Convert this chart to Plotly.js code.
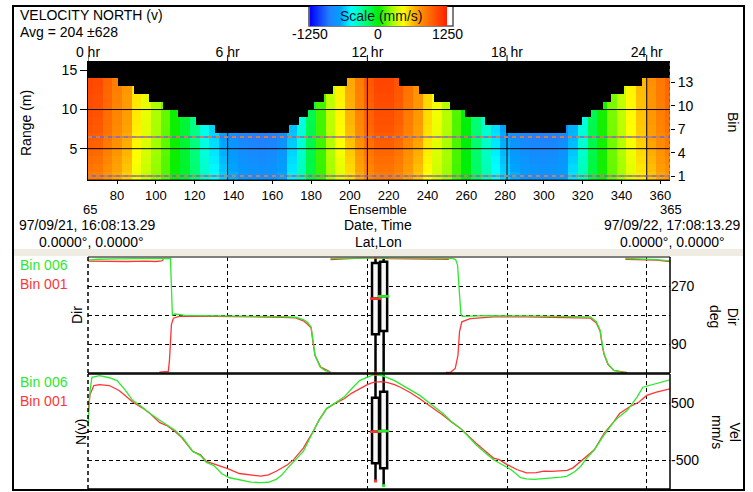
<!DOCTYPE html>
<html><head><meta charset="utf-8">
<script src="https://cdn.plot.ly/plotly-3.0.1.min.js"></script>
<style>html,body{margin:0;padding:0;background:#fff;}#chart{width:753px;height:492px;}</style>
</head><body><div id="chart"></div>
<script>
// ---------------- data ----------------
const ensStart = 65, ensEnd = 365;
const hourEns = [65, 137, 209, 281, 353];
const hourLabels = ['0 hr', '6 hr', '12 hr', '18 hr', '24 hr'];
const ensTicks = [80, 100, 120, 140, 160, 180, 200, 220, 240, 260, 280, 300, 320, 340, 360];
const rangeTicks = [5, 10, 15];
const binTicks = [1, 4, 7, 10, 13];
const binCount = 15;
const selBins = [6, 1];

const heatEns = [65,70,75,80,85,90,95,100,105,110,115,120,125,130,135,140,145,150,155,160,165,170,175,180,185,190,195,200,205,210,215,220,225,230,235,240,245,250,255,260,265,270,275,280,285,290,295,300,305,310,315,320,325,330,335,340,345,350,355,360,365];
const heatVel = [1000,980,880,780,680,480,380,260,150,20,-100,-250,-450,-580,-700,-780,-850,-880,-900,-880,-800,-620,-420,-150,100,300,450,620,780,920,1000,1000,940,820,700,520,400,280,120,-20,-220,-400,-560,-680,-780,-840,-870,-880,-870,-830,-650,-420,-150,30,180,300,440,580,700,800,880];
// relative strength by bin (bin 1 .. 15)
const binFactor = [0.86,0.89,0.92,0.95,0.98,1.0,1.02,1.04,1.05,1.06,1.07,1.08,1.09,1.1,1.1];
// highest valid bin (surface) and the ensemble where it starts
const stepEns = [65,81,89,97,104,112,121,131,169,174,179,182,187,192,199,226,236,244,252,260,270,281,312,320,325,331,335,342,351];
const stepTop = [13,12,11,10,9,8,7,6,7,8,9,10,11,12,13,12,11,10,9,8,7,6,7,8,9,10,11,12,13];

// velocity north, bin 006 (green) and bin 001 (red), mm/s
const vel6Ens = [65,66,67,71,76,80,84,88,93,97,102,106,110,114,119,123,126,130,134,138,142,145,149,154,158,162,165,168,172,176,181,184,188,192,197,201,205,209,212,216,219,223,226,231,236,242,248,252,257,261,265,270,274,277,280,283,288,291,295,300,305,309,312,316,319,322,326,331,336,339,343,346,348,351,355,358,361,365];
const vel6 = [90,700,958,987,950,900,740,552,430,320,203,110,20,-115,-348,-420,-540,-600,-740,-811,-835,-858,-887,-898,-890,-840,-760,-637,-500,-348,0,200,407,500,609,760,900,960,999,990,958,900,842,740,639,480,320,190,58,-80,-232,-380,-492,-551,-610,-666,-811,-830,-840,-830,-811,-800,-782,-700,-608,-470,-318,-58,174,270,377,520,609,783,820,842,880,912];
const vel1Ens = [65,66,68,71,76,81,84,88,93,97,102,106,110,113,119,123,126,131,137,143,148,154,158,162,168,171,176,181,184,188,192,197,201,205,209,212,216,219,223,226,231,236,242,248,252,257,261,265,270,274,277,281,286,291,296,300,304,308,312,315,320,323,326,331,336,339,344,349,353,358,361,365];
const vel1 = [325,650,813,830,813,726,640,522,420,320,160,100,0,-92,-348,-405,-522,-580,-650,-736,-753,-783,-760,-696,-579,-492,-289,0,200,407,490,581,680,755,830,870,880,870,830,783,690,581,440,290,180,58,-70,-203,-350,-464,-492,-579,-666,-724,-720,-696,-700,-696,-680,-637,-492,-400,-318,-29,174,320,435,522,639,696,720,755];

// direction, degrees (null = wrap-around break)
const dir6Ens = [65,70,80,90,100,105,107.5,108.5,110,115,130,150,165,172,176,178,180,181,182,184.6,187,189.7,189.8,190,200,210,220,230,240,250,253,254.5,255.5,256.3,257.2,258,262,270,290,310,320,324,327,329,330,331,333,336,340,342.7,342.8,342,350,358,365];
const dir6 = [350,353,354,355,356,355,356,180,183,179,177,176,175,173,166,158,143,96,55,19,8,3,null,356,357,358,357,357,356,356,356,352,335,262,184,176,177,178,177,176,175,174,159,133,91,60,29,8,3,2,null,356,355,352,348];
const dir1Ens = [65,75,85,95,100,103,104,104.1,101.8,104,106.4,107,107.5,108,109,112,130,150,165,172,176,178,180,181,182,185,190,190.1,190,200,210,220,230,240,251,251.1,249.5,252,254.3,255.7,256.5,257.7,262,274,290,310,320,324,327,329,330,331,333,336,343,343.1,342,350,358,365];
const dir1 = [347,346,346,347,346,348,352,null,3,4,5,40,110,150,170,176,176,175,173,171,162,152,140,95,55,18,3,null,352,355,358,355,354,354,353,null,2,3,14,55,128,159,169,174,174,173,172,170,155,130,88,58,27,8,1,null,353,352,350,346];

// box summaries: [bin 001, bin 006]
const boxEns = [213.2, 217.4];
const dirQ1 = [120, 130], dirMed = [231, 238], dirQ3 = [341, 345], dirLo = [0, 0], dirHi = [360, 360];
const velQ1 = [-556, -644], velMed = [0, 12], velQ3 = [598, 704], velLo = [-868, -950], velHi = [1016, 1016];

// ---------------- styling / layout ----------------
const W = 753, H = 492;
const px = x => x / W, py = y => 1 - y / H;
const FONT = 'Arial, "Liberation Sans", sans-serif';
const F14 = {family: FONT, size: 14, color: '#000'};
const F13 = {family: FONT, size: 13, color: '#000'};
const GREEN = '#2bea2b', RED = '#ff3535';
const XD = [px(88), px(670)];
const heatDom = [py(180), py(61)];
const dirDom = [py(373), py(257)];
const velDom = [py(489), py(374)];
const heatRange = [1, 16.2];
const dirRange = [0, 360];
const velRange = [-1009, 1016];

const colorscale = [
  [0.00, '#0000ff'], [0.14, '#2080ff'], [0.22, '#00a0ff'], [0.30, '#00ffff'],
  [0.40, '#00ff80'], [0.50, '#00ee00'], [0.60, '#a0ff00'], [0.68, '#ffff00'],
  [0.78, '#ffa000'], [0.90, '#ff5a00'], [1.00, '#ff2000']];

// heat grid
const bins = Array.from({length: binCount}, (_, i) => i + 1);
const binY = bins.map(b => b + 0.5);
const zx = []; for (let e = ensStart; e <= ensEnd; e++) zx.push(e);
function topAt(e) { let t = stepTop[0]; for (let i = 0; i < stepEns.length; i++) if (e >= stepEns[i]) t = stepTop[i]; return t; }
function heatAt(e) { let k = 0; for (let i = 0; i < heatEns.length; i++) if (Math.abs(heatEns[i] - e) < Math.abs(heatEns[k] - e)) k = i; return heatVel[k]; }
const zGrid = bins.map((b, bi) => zx.map(e => (b <= topAt(e) ? heatAt(e) * binFactor[bi] : null)));

const traces = [];
traces.push({type: 'heatmap', x: zx, y: binY, z: zGrid, xaxis: 'x', yaxis: 'y', zmin: -1250, zmax: 1250,
  colorscale: colorscale, zsmooth: false, hoverinfo: 'skip', showscale: true,
  colorbar: {orientation: 'h', x: px(378.5), xanchor: 'center', y: py(6), yanchor: 'top',
    len: 137, lenmode: 'pixels', thickness: 20, thicknessmode: 'pixels', xpad: 0, ypad: 0,
    outlinewidth: 0, showticklabels: false, ticks: ''}});
traces.push({type: 'scatter', x: [], y: [], xaxis: 'x2', yaxis: 'y2', hoverinfo: 'skip', showlegend: false});

function lineTrace(x, y, color, xa, ya) {
  return {type: 'scatter', mode: 'lines', x: x, y: y, xaxis: xa, yaxis: ya, connectgaps: false,
    line: {color: color, width: 1.3}, hoverinfo: 'skip', showlegend: false};
}
traces.push(lineTrace(dir1Ens, dir1, RED, 'x3', 'y3'));
traces.push(lineTrace(dir6Ens, dir6, GREEN, 'x3', 'y3'));
traces.push(lineTrace(vel1Ens, vel1, RED, 'x4', 'y4'));
traces.push(lineTrace(vel6Ens, vel6, GREEN, 'x4', 'y4'));

const boxColors = [RED, GREEN];
function addBoxes(q1, med, q3, lo, hi, xa, ya) {
  for (let i = 0; i < boxEns.length; i++) {
    traces.push({type: 'box', x: [boxEns[i]], q1: [q1[i]], median: [med[i]], q3: [q3[i]],
      lowerfence: [lo[i]], upperfence: [hi[i]], width: 3.6, whiskerwidth: 0, boxpoints: false,
      line: {color: '#000', width: 2.5}, fillcolor: '#f7f7f7', xaxis: xa, yaxis: ya,
      hoverinfo: 'skip', showlegend: false});
    traces.push({type: 'scatter', mode: 'markers', x: [boxEns[i]], y: [med[i]], xaxis: xa, yaxis: ya,
      marker: {symbol: 'line-ew', size: 8, line: {color: boxColors[i], width: 2.5}},
      hoverinfo: 'skip', showlegend: false});
    traces.push({type: 'scatter', mode: 'markers', x: [boxEns[i], boxEns[i]], y: [lo[i], hi[i]], xaxis: xa, yaxis: ya,
      marker: {symbol: 'square', size: 3, color: boxColors[i]}, cliponaxis: true,
      hoverinfo: 'skip', showlegend: false});
  }
}
addBoxes(dirQ1, dirMed, dirQ3, dirLo, dirHi, 'x3', 'y3');
addBoxes(velQ1, velMed, velQ3, velLo, velHi, 'x4', 'y4');

// shapes
const shapes = [];
shapes.push({type: 'rect', xref: 'x', yref: 'y', x0: ensStart, x1: ensEnd, y0: heatRange[0], y1: heatRange[1],
  fillcolor: '#000', line: {width: 0}, layer: 'below'});
hourEns.slice(1).forEach(e => shapes.push({type: 'line', xref: 'x', yref: 'y', x0: e, x1: e, y0: heatRange[0], y1: heatRange[1],
  line: {color: '#000', width: 1}, layer: 'above'}));
rangeTicks.forEach(r => shapes.push({type: 'line', xref: 'x', yref: 'y', x0: ensStart, x1: ensEnd, y0: r, y1: r,
  line: {color: '#000', width: 1}, layer: 'above'}));
selBins.forEach(b => {
  shapes.push({type: 'line', xref: 'x', yref: 'y', x0: ensStart, x1: ensEnd, y0: b + 0.5, y1: b + 0.5, line: {color: '#6a6ad2', width: 1.5}, layer: 'above'});
  shapes.push({type: 'line', xref: 'x', yref: 'y', x0: ensStart, x1: ensEnd, y0: b + 0.5, y1: b + 0.5, line: {color: '#e8843c', width: 1.5, dash: '4px,4px'}, layer: 'above'});
});
shapes.push({type: 'line', xref: 'x', yref: 'y', x0: ensEnd, x1: ensEnd, y0: heatRange[0], y1: heatRange[1], line: {color: '#3a5ad8', width: 1.5, dash: '3px,3px'}, layer: 'above'});
hourEns.forEach(e => shapes.push({type: 'line', xref: 'x', yref: 'paper', x0: e, x1: e, y0: heatDom[1], y1: py(55),
  line: {color: '#000', width: 1}}));
function panelFrame(dom, topColor) {
  shapes.push({type: 'line', xref: 'paper', yref: 'paper', x0: XD[0], x1: XD[1], y0: dom[1], y1: dom[1], line: {color: topColor, width: 1.5}});
  shapes.push({type: 'line', xref: 'paper', yref: 'paper', x0: XD[0], x1: XD[1], y0: dom[0], y1: dom[0], line: {color: '#000', width: 1.5}});
  shapes.push({type: 'line', xref: 'paper', yref: 'paper', x0: XD[1], x1: XD[1], y0: dom[0], y1: dom[1], line: {color: '#000', width: 1.5}});
  shapes.push({type: 'line', xref: 'paper', yref: 'paper', x0: XD[0], x1: XD[0], y0: dom[0], y1: dom[1], line: {color: '#000', width: 1.5, dash: '4px,3px'}});
}
shapes.push({type: 'rect', xref: 'paper', yref: 'paper', x0: px(14), x1: px(743), y0: py(256), y1: py(249), fillcolor: '#efece3', line: {width: 0}, layer: 'below'});
panelFrame(dirDom, '#555');
panelFrame(velDom, '#000');
shapes.push({type: 'rect', xref: 'paper', yref: 'paper', x0: px(447), x1: px(453), y0: py(26), y1: py(6), fillcolor: '#fff', line: {width: 0}});
shapes.push({type: 'rect', xref: 'paper', yref: 'paper', x0: px(309), x1: px(453), y0: py(26), y1: py(6), line: {color: '#555', width: 1.5}});
shapes.push({type: 'line', xref: 'paper', yref: 'paper', x0: px(310), x1: px(310), y0: py(26), y1: py(6), line: {color: '#666', width: 3}});
shapes.push({type: 'rect', xref: 'paper', yref: 'paper', x0: px(13), x1: px(744), y0: py(490), y1: py(6), line: {color: '#000', width: 2}});

// annotations
const annotations = [];
function ann(text, x, y, xanchor, opts) {
  annotations.push(Object.assign({text: text, xref: 'paper', yref: 'paper', x: px(x), y: py(y), xanchor: xanchor || 'center',
    yanchor: 'middle', showarrow: false, font: F14}, opts || {}));
}
ann('VELOCITY NORTH (v)', 18, 15, 'left');
ann('Avg = 204 ±628', 18, 32, 'left');
ann('Scale (mm/s)', 381, 16, 'center', {font: {family: FONT, size: 14, color: '#101030'}});
ann('-1250', 310, 34); ann('0', 378, 34); ann('1250', 447, 34);
ann('65', 90, 209, 'center', {font: F13}); ann('Ensemble', 378, 209, 'center', {font: F13}); ann('365', 671, 209, 'center', {font: F13});
ann('97/09/21, 16:08:13.29', 17, 225, 'left'); ann('Date, Time', 378, 225); ann('97/09/22, 17:08:13.29', 742, 225, 'right');
ann('0.0000°, 0.0000°', 91, 242); ann('Lat,Lon', 378, 242); ann('0.0000°, 0.0000°', 672, 242);
ann('Range (m)', 26, 123, 'center', {textangle: -90});
ann('Bin', 733, 122, 'center', {textangle: 90});
ann('Dir', 77, 315, 'center', {textangle: -90});
ann('Dir<br>deg', 724, 316, 'center', {textangle: 90});
ann('N(v)', 81, 432, 'center', {textangle: -90});
ann('Vel<br>mm/s', 726, 432, 'center', {textangle: 90});
ann('Bin 006', 18, 265, 'left', {font: {family: FONT, size: 14, color: GREEN}});
ann('Bin 001', 18, 284, 'left', {font: {family: FONT, size: 14, color: RED}});
ann('Bin 006', 18, 382, 'left', {font: {family: FONT, size: 14, color: GREEN}});
ann('Bin 001', 18, 401, 'left', {font: {family: FONT, size: 14, color: RED}});

const xr = [ensStart, ensEnd];
const gridDash = '4px,3px';
const layout = {
  width: W, height: H, margin: {l: 0, r: 0, t: 0, b: 0, autoexpand: false},
  paper_bgcolor: '#fff', plot_bgcolor: 'rgba(0,0,0,0)', showlegend: false, boxmode: 'overlay',
  font: F14,
  xaxis: {domain: XD, range: xr, anchor: 'y', tickvals: ensTicks, ticks: 'outside', ticklen: 3, tickcolor: '#000',
    showline: true, linecolor: '#000', linewidth: 1, showgrid: false, zeroline: false, tickfont: F13},
  xaxis2: {overlaying: 'x', side: 'top', anchor: 'y', range: xr, tickvals: hourEns, ticktext: hourLabels,
    ticks: '', showgrid: false, zeroline: false, showline: false, tickfont: F14},
  yaxis: {domain: heatDom, range: heatRange, anchor: 'x', tickvals: rangeTicks, ticks: 'outside', ticklen: 7, tickcolor: '#000',
    showline: true, linecolor: '#000', linewidth: 1, showgrid: false, zeroline: false, tickfont: F14},
  yaxis2: {overlaying: 'y', side: 'right', anchor: 'x', range: heatRange, tickvals: binTicks.map(b => b + 0.5),
    ticktext: binTicks.map(String), ticks: 'outside', ticklen: 4, tickcolor: '#000', showgrid: false, zeroline: false,
    showline: false, tickfont: F14},
  xaxis3: {domain: XD, range: xr, anchor: 'y3', tickvals: hourEns, showticklabels: false, ticks: '', showgrid: true,
    gridcolor: '#000', griddash: gridDash, gridwidth: 1, zeroline: false, showline: false},
  yaxis3: {domain: dirDom, range: dirRange, anchor: 'x3', side: 'right', tickvals: [90, 180, 270], ticktext: ['90', '', '270'],
    ticks: '', showgrid: true, gridcolor: '#000', griddash: gridDash, gridwidth: 1, zeroline: false, showline: false, tickfont: F14},
  xaxis4: {domain: XD, range: xr, anchor: 'y4', tickvals: hourEns, showticklabels: false, ticks: '', showgrid: true,
    gridcolor: '#000', griddash: gridDash, gridwidth: 1, zeroline: false, showline: false},
  yaxis4: {domain: velDom, range: velRange, anchor: 'x4', side: 'right', tickvals: [-500, 0, 500], ticktext: ['-500', '', '500'],
    ticks: '', showgrid: true, gridcolor: '#000', griddash: gridDash, gridwidth: 1, zeroline: false, showline: false, tickfont: F14},
  shapes: shapes, annotations: annotations
};
Plotly.newPlot('chart', traces, layout, {staticPlot: true, displayModeBar: false});
</script></body></html>
